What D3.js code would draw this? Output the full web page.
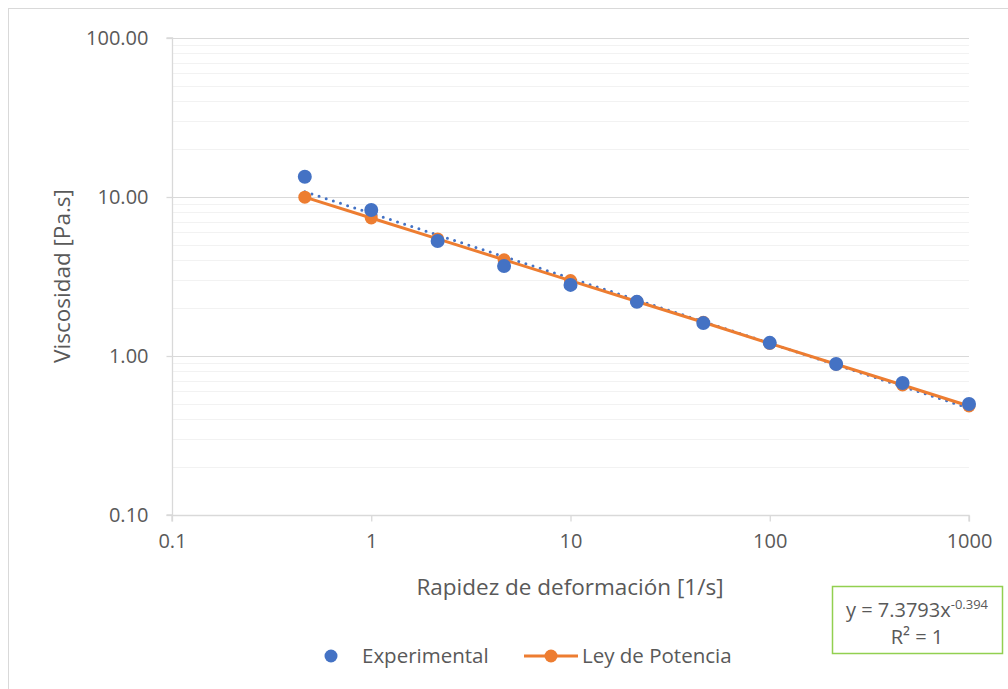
<!DOCTYPE html>
<html>
<head>
<meta charset="utf-8">
<script src="https://cdn.jsdelivr.net/npm/d3@7"></script>
<style>
  body { margin: 0; background: #fff; }
  text { font-family: "Open Sans", sans-serif; fill: #595959; }
</style>
</head>
<body>
<div id="app"></div>
<script>
const W = 1008, H = 689
const M = { left: 172, right: 1008 - 969, top: 38, bottom: 689 - 515 }

// shear rate [1/s]
const rates = [0.464, 1, 2.154, 4.642, 10, 21.54, 46.42, 100, 215.4, 464.2, 1000]
// measured viscosity [Pa.s]
const experimental = [13.4, 8.28, 5.29, 3.68, 2.80, 2.19, 1.61, 1.21, 0.89, 0.676, 0.499]
// power-law model values
const leyPotencia = [9.98, 7.38, 5.45, 4.03, 2.98, 2.20, 1.63, 1.20, 0.888, 0.657, 0.485]
// dotted trendline on the experimental series (end points)
const trendX = [0.464, 1000]
const trendY = [10.8, 0.47]

const xTicks = [0.1, 1, 10, 100, 1000]
const yTicks = [0.1, 1, 10, 100]

const svg = d3.select('#app').append('svg')
  .attr('width', W)
  .attr('height', H)

// chart area border
svg.append('rect')
  .attr('x', 8.5).attr('y', 8.5)
  .attr('width', W + 10).attr('height', H + 10)
  .attr('fill', 'none')
  .attr('stroke', '#d9d9d9')

const x = d3.scaleLog().domain([0.1, 1000]).range([M.left, W - M.right])
const y = d3.scaleLog().domain([0.1, 100]).range([H - M.bottom, M.top])

// minor gridlines
const minor = []
for (let d = 0.1; d < 100; d *= 10) {
  for (let k = 2; k <= 9; k++) minor.push(d * k)
}
svg.append('g').selectAll('line')
  .data(minor)
  .enter().append('line')
  .attr('x1', M.left).attr('x2', W - M.right)
  .attr('y1', d => Math.round(y(d)) + 0.5)
  .attr('y2', d => Math.round(y(d)) + 0.5)
  .attr('stroke', '#f2f2f2')

// major gridlines
svg.append('g').selectAll('line')
  .data(yTicks.slice(1))
  .enter().append('line')
  .attr('x1', M.left).attr('x2', W - M.right)
  .attr('y1', d => Math.round(y(d)) + 0.5)
  .attr('y2', d => Math.round(y(d)) + 0.5)
  .attr('stroke', '#d9d9d9')

const yAxis = d3.axisLeft(y)
  .tickValues(yTicks)
  .tickFormat(d3.format('.2f'))
  .tickSize(6)
  .tickPadding(18)

const xAxis = d3.axisBottom(x)
  .tickValues(xTicks)
  .tickFormat(d => d < 1 ? '0.1' : d3.format('d')(d))
  .tickSize(6)
  .tickPadding(12)

const gy = svg.append('g')
  .attr('transform', 'translate(' + (M.left + 0.5) + ',0)')
  .call(yAxis)
const gx = svg.append('g')
  .attr('transform', 'translate(0,' + (H - M.bottom + 0.5) + ')')
  .call(xAxis)

for (const g of [gx, gy]) {
  g.select('.domain').attr('stroke', '#d9d9d9').attr('stroke-width', 1.3)
  g.selectAll('.tick line').attr('stroke', '#d9d9d9').attr('stroke-width', 1.3)
  g.selectAll('.tick text').style('font-size', '20px').attr('fill', '#595959')
}
gx.select('.domain').attr('d', 'M' + M.left + ',6V0H' + (W - M.right) + 'V6')
gy.select('.domain').attr('d', 'M-6,' + M.top + 'H0V' + (H - M.bottom) + 'H-6')

// axis titles
svg.append('text')
  .attr('x', 570).attr('y', 595)
  .attr('text-anchor', 'middle')
  .style('font-size', '22.5px')
  .text('Rapidez de deformación [1/s]')

svg.append('text')
  .attr('transform', 'translate(70,276) rotate(-90)')
  .attr('text-anchor', 'middle')
  .style('font-size', '22.5px')
  .text('Viscosidad [Pa.s]')

// trendline
svg.append('line')
  .attr('x1', x(trendX[0])).attr('y1', y(trendY[0]))
  .attr('x2', x(trendX[1])).attr('y2', y(trendY[1]))
  .attr('stroke', '#4472c4')
  .attr('stroke-width', 3)
  .attr('stroke-dasharray', '0 7.5')
  .attr('stroke-linecap', 'round')

const orange = '#ed7d31', blue = '#4472c4'

const line = d3.line()
  .x((d, i) => x(rates[i]))
  .y(d => y(d))

svg.append('path')
  .datum(leyPotencia)
  .attr('d', line)
  .attr('fill', 'none')
  .attr('stroke', orange)
  .attr('stroke-width', 3)

svg.append('g').selectAll('circle')
  .data(leyPotencia)
  .enter().append('circle')
  .attr('cx', (d, i) => x(rates[i]))
  .attr('cy', d => y(d))
  .attr('r', 6.5)
  .attr('fill', orange)

svg.append('g').selectAll('circle')
  .data(experimental)
  .enter().append('circle')
  .attr('cx', (d, i) => x(rates[i]))
  .attr('cy', d => y(d))
  .attr('r', 7)
  .attr('fill', blue)

// equation box
svg.append('rect')
  .attr('x', 832.5).attr('y', 586.5)
  .attr('width', 170).attr('height', 67)
  .attr('fill', '#fff')
  .attr('stroke', '#92d050')
  .attr('stroke-width', 1.5)

const eq = svg.append('text')
  .attr('x', 917).attr('y', 617)
  .attr('text-anchor', 'middle')
  .style('font-size', '20px')
eq.append('tspan').text('y = 7.3793x')
eq.append('tspan').attr('dy', -8).style('font-size', '13px').text('-0.394')

svg.append('text')
  .attr('x', 917).attr('y', 644)
  .attr('text-anchor', 'middle')
  .style('font-size', '20px')
  .text('R² = 1')

// legend
const lg = svg.append('g')
lg.append('circle').attr('cx', 331).attr('cy', 656).attr('r', 6.5).attr('fill', blue)
lg.append('text').attr('x', 362).attr('y', 663).style('font-size', '20.5px').text('Experimental')
lg.append('line').attr('x1', 524).attr('x2', 578).attr('y1', 656).attr('y2', 656)
  .attr('stroke', orange).attr('stroke-width', 3)
lg.append('circle').attr('cx', 551).attr('cy', 656).attr('r', 6.5).attr('fill', orange)
lg.append('text').attr('x', 582).attr('y', 663).style('font-size', '20.5px').text('Ley de Potencia')
</script>
</body>
</html>
